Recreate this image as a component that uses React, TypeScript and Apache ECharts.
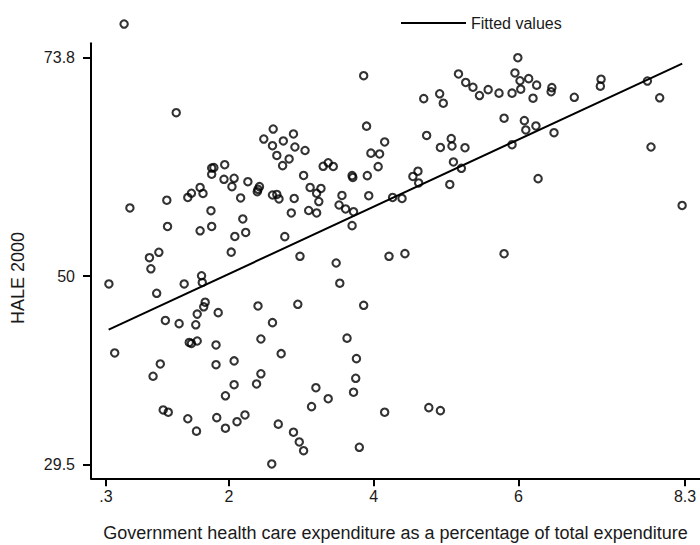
import React, { useEffect, useRef } from "react";
import * as echarts from "echarts";

// Government health care expenditure (% of total expenditure)
const govExpenditure: number[] = [
  0.55, 1.27, 2.61, 2.48, 2.6, 2.75, 2.89, 2.91, 2.66, 2.83,
  2.74, 3.05, 1.94, 1.76, 1.79, 1.76, 1.93, 2.07, 2.04, 2.26,
  2.42, 2.4, 2.39, 2.6, 2.66, 2.69, 2.9, 1.6, 1.48, 1.43,
  1.64, 2.16, 1.14, 0.63, 1.75, 2.86, 2.19, 1.15, 1.76, 1.6,
  2.23, 2.08, 2.77, 3.03, 3.3, 3.37, 3.44, 3.12, 3.27, 3.21,
  3.24, 3.1, 3.21, 3.56, 3.52, 3.61, 3.72, 3.7, 3.86, 3.9,
  4.15, 3.96, 4.08, 4.06, 3.91, 3.7, 3.71, 3.93, 4.54, 4.61,
  4.62, 4.26, 4.39, 4.69, 4.91, 4.96, 4.73, 4.92, 5.07, 5.08,
  5.26, 5.1, 5.21, 5.05, 5.17, 5.27, 5.37, 5.46, 5.58, 5.73,
  5.91, 5.99, 5.95, 6.02, 6.14, 6.25, 6.03, 6.2, 6.46, 6.45,
  6.77, 7.14, 7.13, 7.78, 7.95, 5.8, 6.08, 6.1, 6.24, 6.49,
  5.91, 7.83, 6.27, 8.26, 1.03, 0.9, 0.92, 2.03, 0.34, 1.0,
  1.38, 1.62, 1.63, 1.67, 1.65, 1.56, 1.85, 2.4, 1.12, 1.31,
  1.54, 1.45, 1.48, 1.56, 1.82, 2.6, 2.95, 0.42, 1.05, 0.95,
  1.82, 2.07, 2.44, 2.72, 2.44, 2.38, 2.07, 1.95, 1.09, 1.16,
  1.43, 1.55, 1.83, 1.95, 2.11, 2.22, 2.68, 2.89, 2.97, 3.03,
  2.59, 2.98, 3.48, 4.21, 4.43, 3.53, 3.86, 3.63, 3.76, 3.75,
  3.72, 3.2, 3.37, 3.14, 4.15, 4.76, 4.92, 3.8, 5.8,
];

// HALE 2000
const hale2000: number[] = [
  77.47, 67.81, 66.03, 64.94, 64.21, 64.73, 65.49, 64.07, 63.15, 62.77,
  62.04, 63.69, 62.14, 61.78, 61.82, 61.1, 60.55, 60.66, 59.75, 60.29,
  59.75, 59.46, 59.2, 58.84, 58.9, 58.41, 58.46, 59.66, 59.03, 58.57,
  59.01, 58.52, 58.27, 57.43, 57.13, 56.88, 56.23, 55.41, 55.41, 54.94,
  54.76, 54.32, 54.3, 60.97, 61.97, 62.35, 61.95, 59.66, 59.55, 59.03,
  58.13, 57.15, 56.88, 58.79, 57.75, 57.32, 57.02, 55.5, 71.84, 66.34,
  64.62, 63.4, 63.31, 61.93, 60.95, 60.95, 60.75, 58.76, 60.86, 61.43,
  60.15, 58.57, 58.46, 69.34, 69.87, 68.84, 65.33, 64.02, 64.98, 64.18,
  63.99, 62.44, 61.75, 59.99, 72.03, 71.1, 70.58, 69.68, 70.32, 69.94,
  69.94, 73.8, 72.14, 71.29, 71.52, 70.81, 70.37, 69.39, 70.54, 70.09,
  69.49, 71.46, 70.7, 71.26, 69.43, 67.21, 66.94, 65.93, 66.36, 65.63,
  64.32, 64.07, 60.62, 57.7, 52.6, 52.01, 50.8, 52.61, 49.15, 48.13,
  49.15, 50.04, 49.31, 47.16, 46.66, 45.86, 46.02, 46.75, 45.17, 44.82,
  44.7, 42.77, 42.66, 42.93, 42.5, 44.93, 46.93, 41.63, 40.43, 39.09,
  40.35, 40.76, 43.15, 41.55, 39.36, 38.25, 38.17, 36.96, 35.42, 35.17,
  34.46, 33.11, 34.58, 33.43, 34.14, 34.87, 33.87, 32.99, 31.93, 30.98,
  29.53, 52.16, 51.43, 52.16, 52.45, 49.23, 46.82, 43.24, 41.01, 38.87,
  37.35, 37.84, 36.64, 35.78, 35.17, 35.67, 35.34, 31.35, 52.44,
];

// Fitted values (end points of the fitted line)
const fittedX: number[] = [0.337, 8.261];
const fittedY: number[] = [44.17, 73.16];

const xTicks: number[] = [0.3, 2, 4, 6, 8.3];
const yTicks: number[] = [29.5, 50, 73.8];

const xTitle = "Government health care expenditure as a percentage of total expenditure";
const yTitle = "HALE 2000";
const legendLabel = "Fitted values";

const FONT = "'Liberation Sans', Arial, Helvetica, sans-serif";
const TEXT = "#1a1a1a";

export default function App() {
  const ref = useRef<HTMLDivElement>(null);

  useEffect(() => {
    if (!ref.current) return;
    const chart = echarts.init(ref.current, undefined, { renderer: "svg" });
    const scatterData = govExpenditure.map((x, i) => [x, hale2000[i]]);
    const lineData = fittedX.map((x, i) => [x, fittedY[i]]);
    const fmt = (v: number) => {
      const s = String(Math.round(v * 10) / 10);
      return s.startsWith("0.") ? s.slice(1) : s;
    };
    chart.setOption({
      animation: false,
      backgroundColor: "#ffffff",
      textStyle: { fontFamily: FONT },
      grid: {
        left: 91,
        right: 0,
        top: 43.3,
        bottom: 66.7,
        containLabel: false,
        outerBoundsMode: "none",
      },
      legend: {
        data: [{ name: legendLabel, icon: "rect" }],
        left: 396,
        top: 10,
        itemWidth: 65,
        itemHeight: 2,
        itemStyle: { color: "#000" },
        textStyle: { fontFamily: FONT, fontSize: 16, color: TEXT },
        selectedMode: false,
      },
      xAxis: {
        type: "value",
        min: 0.0926,
        max: 8.507,
        splitLine: { show: false },
        axisLine: { show: true, onZero: false, lineStyle: { color: "#000", width: 2 } },
        axisTick: { show: true, length: 8, customValues: xTicks, lineStyle: { color: "#000", width: 2 } },
        axisLabel: {
          customValues: xTicks,
          formatter: fmt,
          fontSize: 16,
          color: TEXT,
          fontFamily: FONT,
          margin: 10,
        },
        name: xTitle,
        nameLocation: "middle",
        nameGap: 46,
        nameTextStyle: { fontSize: 18, color: TEXT, fontFamily: FONT },
      },
      yAxis: {
        type: "value",
        min: 27.97,
        max: 75.37,
        splitLine: { show: false },
        axisLine: { show: true, onZero: false, lineStyle: { color: "#000", width: 2 } },
        axisTick: { show: true, length: 8, customValues: yTicks, lineStyle: { color: "#000", width: 2 } },
        axisLabel: {
          customValues: yTicks,
          formatter: (v: number) => String(v),
          fontSize: 16,
          color: TEXT,
          fontFamily: FONT,
          margin: 16,
        },
      },
      graphic: [
        {
          type: "text",
          x: 18,
          y: 278,
          rotation: Math.PI / 2,
          style: {
            text: yTitle,
            fontSize: 18,
            fontFamily: FONT,
            fill: TEXT,
            align: "center",
            verticalAlign: "middle",
          },
        },
      ],
      series: [
        {
          type: "scatter",
          name: "HALE 2000",
          data: scatterData,
          symbol: "circle",
          symbolSize: 7.4,
          clip: false,
          itemStyle: { color: "rgba(0,0,0,0)", borderColor: "#000", borderWidth: 2.1 },
          emphasis: { disabled: true },
          z: 3,
        },
        {
          type: "line",
          name: legendLabel,
          data: lineData,
          symbol: "none",
          showSymbol: false,
          clip: false,
          lineStyle: { color: "#000", width: 2 },
          itemStyle: { color: "#000" },
          emphasis: { disabled: true },
          z: 4,
        },
      ],
    });
    return () => chart.dispose();
  }, []);

  return (
    <div
      ref={ref}
      style={{ position: "fixed", left: 0, top: 0, width: 700, height: 545, background: "#fff" }}
    />
  );
}
